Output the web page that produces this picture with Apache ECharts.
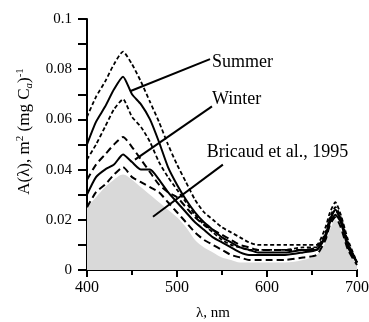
<!DOCTYPE html>
<html><head><meta charset="utf-8">
<script src="https://cdn.jsdelivr.net/npm/echarts@6/dist/echarts.min.js"></script>
<style>html,body{margin:0;padding:0;background:#fff}#c{width:369px;height:322px}</style>
</head><body><div id="c"></div>
<script>
var wavelengths = [400,410,420,430,440,450,460,470,480,490,500,510,520,530,540,550,560,570,580,590,600,620,640,655,665,670,676,682,690,700];
var summerUpper = [.061,.069,.075,.082,.087,.082,.075,.067,.059,.050,.042,.035,.028,.023,.020,.017,.015,.013,.011,.010,.010,.010,.010,.010,.017,.023,.027,.022,.012,.003];
var summerMean  = [.050,.059,.065,.072,.077,.070,.066,.060,.051,.041,.034,.028,.023,.019,.016,.013,.011,.009,.008,.007,.007,.007,.008,.008,.014,.020,.024,.020,.010,.003];
var summerLower = [.044,.050,.057,.064,.068,.061,.057,.051,.043,.037,.032,.027,.022,.018,.015,.012,.010,.009,.008,.008,.008,.008,.009,.009,.015,.021,.025,.021,.011,.003];
var winterUpper = [.036,.042,.046,.050,.053,.049,.044,.039,.034,.031,.029,.025,.021,.018,.016,.014,.012,.010,.009,.008,.008,.008,.008,.009,.014,.020,.024,.020,.010,.003];
var winterMean  = [.030,.037,.040,.042,.046,.043,.040,.040,.036,.031,.027,.023,.019,.016,.013,.011,.009,.007,.006,.006,.006,.006,.007,.008,.013,.019,.022,.019,.009,.003];
var winterLower = [.025,.031,.034,.038,.041,.037,.035,.033,.031,.027,.023,.019,.015,.012,.010,.008,.006,.005,.004,.004,.004,.004,.005,.006,.012,.018,.021,.017,.008,.002];
var bricaud     = [.025,.029,.033,.036,.038,.036,.033,.030,.027,.024,.021,.017,.012,.009,.007,.005,.004,.003,.003,.003,.003,.003,.004,.006,.011,.016,.020,.016,.008,.002];
var xTicks = [400,500,600,700];
var yTicks = [0,0.02,0.04,0.06,0.08,0.1];
var labels = [
  {text:'Summer', at:[539,0.0828], from:[536.7,0.0840], to:[447.8,0.0712]},
  {text:'Winter', at:[539,0.0680], from:[538.9,0.0652], to:[453.3,0.0440]},
  {text:'Bricaud et al., 1995', at:[533,0.0468], from:[551,0.0420], to:[473.3,0.0212]}
];

function pairs(arr){ return wavelengths.map(function(w,i){ return [w, arr[i]]; }); }
var serif = 'Liberation Serif';
function lineSeries(name, arr, type, width){
  return {name:name, type:'line', data:pairs(arr), symbol:'none', smooth:0.2, z:3,
    lineStyle:{color:'#000', width:width, type:type}};
}
var chart = echarts.init(document.getElementById('c'));
chart.setOption({
  animation:false,
  grid:{left:87, right:12, top:19, bottom:52, containLabel:false, outerBoundsMode:'none'},
  xAxis:{type:'value', min:400, max:700, interval:100,
    name:'λ, nm', nameLocation:'middle', nameGap:36,
    nameTextStyle:{fontFamily:serif, fontSize:15, color:'#000', padding:[0,18,0,0]},
    axisLine:{lineStyle:{color:'#000', width:2}},
    axisTick:{show:true, length:7, lineStyle:{color:'#000', width:2}},
    minorTick:{show:true, splitNumber:2, length:5, lineStyle:{color:'#000', width:2}},
    axisLabel:{fontFamily:serif, fontSize:16, color:'#000', margin:10,
      formatter:function(v){ return xTicks.indexOf(v)>=0 ? String(v) : ''; }},
    splitLine:{show:false}},
  yAxis:{type:'value', min:0, max:0.1, interval:0.02,
    name:'{t|A(λ), m}{s|2}{t| (mg C}{b|a}{t|)}{s|-1}', nameLocation:'middle', nameGap:45, nameRotate:90,
    nameTextStyle:{fontFamily:serif, fontSize:17, color:'#000', padding:[0,0,0,26],
      rich:{t:{fontFamily:serif, fontSize:17, color:'#000', lineHeight:20, verticalAlign:'middle'},
            s:{fontFamily:serif, fontSize:11, color:'#000', lineHeight:20, verticalAlign:'top'},
            b:{fontFamily:serif, fontSize:11, color:'#000', fontStyle:'italic', lineHeight:20, verticalAlign:'bottom'}}},
    axisLine:{show:true, lineStyle:{color:'#000', width:2}},
    axisTick:{show:true, length:9, lineStyle:{color:'#000', width:2}},
    minorTick:{show:true, splitNumber:2, length:9, lineStyle:{color:'#000', width:2}},
    axisLabel:{fontFamily:serif, fontSize:15, color:'#000', margin:15,
      formatter:function(v){ var r=Math.round(v*100)/100; return yTicks.indexOf(r)>=0 ? String(r) : ''; }},
    splitLine:{show:false}},
  series:[
    {name:'Bricaud et al., 1995', type:'line', data:pairs(bricaud), symbol:'none', smooth:0.3, z:1,
      lineStyle:{width:0, opacity:0}, areaStyle:{color:'#d9d9d9', opacity:1},
      markLine:{silent:true, symbol:['none','none'], animation:false,
        lineStyle:{color:'#000', width:2, type:'solid'}, label:{show:false},
        data:labels.map(function(l){ return [{coord:l.from},{coord:l.to}]; })},
      markPoint:{silent:true, symbol:'circle', symbolSize:0, animation:false,
        label:{show:true, position:'right', distance:0, fontFamily:serif, fontSize:18, color:'#000',
          formatter:function(p){ return p.name; }},
        data:labels.map(function(l){ return {name:l.text, coord:l.at}; })}},
    lineSeries('Summer upper', summerUpper, [4,2.5], 1.8),
    lineSeries('Summer', summerMean, 'solid', 2),
    lineSeries('Summer lower', summerLower, [4,2.5], 1.8),
    lineSeries('Winter upper', winterUpper, [7,4], 2),
    lineSeries('Winter', winterMean, 'solid', 2),
    lineSeries('Winter lower', winterLower, [7,4], 2)
  ]
});
</script></body></html>
